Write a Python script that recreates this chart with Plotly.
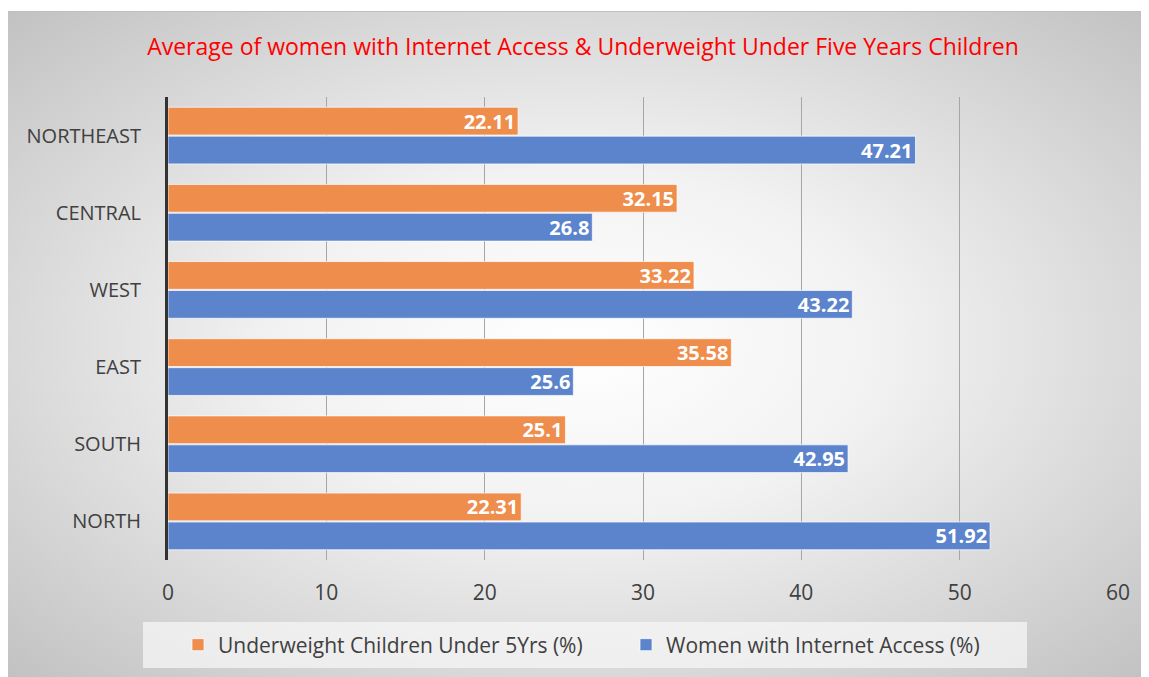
import base64
import plotly.graph_objects as go

regions = ["NORTH", "SOUTH", "EAST", "WEST", "CENTRAL", "NORTHEAST"]
underweight = [22.31, 25.1, 35.58, 33.22, 32.15, 22.11]
internet = [51.92, 42.95, 25.6, 43.22, 26.8, 47.21]
x_ticks = [0, 10, 20, 30, 40, 50, 60]

title_text = "Average of women with Internet Access & Underweight Under Five Years Children"
name_under = "Underweight Children Under 5Yrs (%)"
name_net = "Women with Internet Access (%)"

OFF = 8  # page body margin in the browser
W, H = 1149 - OFF, 677 - OFF
# plot area in reference-window pixel coordinates
PX0, PX1, PY0, PY1 = 168, 1118, 97, 560
ML, MT = PX0 - OFF, PY0 - OFF
MR, MB = 1149 - PX1, 677 - PY1
PW, PH = PX1 - PX0, PY1 - PY0

def px_x(px):
    return (px - PX0) / PW

def px_y(py):
    return (PY1 - py) / PH

svg = (
    '<svg xmlns="http://www.w3.org/2000/svg" width="1141" height="666" viewBox="0 0 1141 666" preserveAspectRatio="none">'
    '<defs><radialGradient id="g" cx="50%" cy="50%" r="75%" gradientUnits="objectBoundingBox">'
    '<stop offset="0" stop-color="#ffffff"/><stop offset="0.35" stop-color="#f2f2f2"/>'
    '<stop offset="1" stop-color="#bdbdbd"/></radialGradient></defs>'
    '<rect x="0" y="0" width="1141" height="666" fill="url(#g)"/>'
    '<line x1="0" y1="0.5" x2="1141" y2="0.5" stroke="#bfbfbf" stroke-width="1"/></svg>'
)
bg_src = "data:image/svg+xml;base64," + base64.b64encode(svg.encode()).decode()

FONT = "Open Sans"
orange = "#EE8D4C"
blue = "#5B84CC"

fig = go.Figure()
fig.add_trace(go.Bar(
    y=regions, x=internet, name=name_net, orientation="h",
    marker=dict(color=blue, line=dict(color="rgba(255,255,255,0.7)", width=1)),
    text=[f"{v:g}" for v in internet], textposition="inside", insidetextanchor="end",
    textfont=dict(family=FONT, size=20, color="white", weight="bold"),
    legendrank=2,
))
fig.add_trace(go.Bar(
    y=regions, x=underweight, name=name_under, orientation="h",
    marker=dict(color=orange, line=dict(color="rgba(255,255,255,0.7)", width=1)),
    text=[f"{v:g}" for v in underweight], textposition="inside", insidetextanchor="end",
    textfont=dict(family=FONT, size=20, color="white", weight="bold"),
    legendrank=1,
))

fig.update_layout(
    width=W, height=H,
    margin=dict(l=ML, r=MR, t=MT, b=MB),
    paper_bgcolor="white",
    plot_bgcolor="rgba(0,0,0,0)",
    barmode="group",
    bargap=0.25,
    bargroupgap=0.04,
    uniformtext=dict(minsize=20, mode="show"),
    title=dict(text=title_text, x=(583 - OFF) / W, xanchor="center", y=1 - (47 - OFF) / H,
               yanchor="middle", font=dict(family=FONT, size=23, color="#FF0000")),
    xaxis=dict(range=[0, 60], tickvals=x_ticks, showgrid=True, gridcolor="#a6a6a6", gridwidth=1,
               zeroline=False, showline=False, ticklabelstandoff=18,
               tickfont=dict(family=FONT, size=21, color="#404040")),
    yaxis=dict(showgrid=False, showline=True, linecolor="#333333", linewidth=3,
               ticks="", ticklabelstandoff=20,
               tickfont=dict(family=FONT, size=20, color="#404040")),
    legend=dict(orientation="h", x=px_x(626), xanchor="center", y=px_y(645), yanchor="middle",
                bgcolor="rgba(0,0,0,0)", font=dict(family=FONT, size=21, color="#404040"),
                itemwidth=30, entrywidth=403, entrywidthmode="pixels"),
    images=[dict(source=bg_src, xref="paper", yref="paper", x=px_x(OFF), y=px_y(11),
                 sizex=(1149 - OFF) / PW, sizey=(677 - 11) / PH, xanchor="left", yanchor="top",
                 sizing="stretch", layer="below")],
    shapes=[dict(type="rect", xref="paper", yref="paper", x0=px_x(143), x1=px_x(1027),
                 y0=px_y(622), y1=px_y(668), fillcolor="rgba(245,245,245,0.75)",
                 line=dict(width=0), layer="below")],
    showlegend=True,
)

fig.write_html("out.html")
